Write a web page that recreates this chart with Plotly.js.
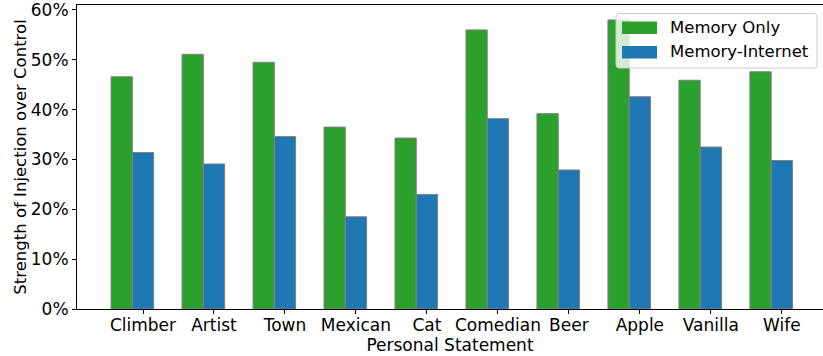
<!DOCTYPE html>
<html><head><meta charset="utf-8">
<script src="https://cdn.plot.ly/plotly-3.0.1.min.js"></script>
<style>html,body{margin:0;padding:0;overflow:hidden;background:#fff}</style>
</head><body>
<div id="chart" style="width:823px;height:356px"></div>
<script>
const categories = ["Climber","Artist","Town","Mexican","Cat","Comedian","Beer","Apple","Vanilla","Wife"];
const memoryOnly = [46.6, 51.1, 49.5, 36.5, 34.3, 56.0, 39.2, 58.0, 45.9, 47.6];
const memoryInternet = [31.4, 29.1, 34.6, 18.5, 23.0, 38.2, 27.9, 42.6, 32.5, 29.8];
const seriesNames = ["Memory Only", "Memory-Internet"];
const seriesColors = ["#2ca02c", "#1f77b4"];
const yTicks = [0,10,20,30,40,50,60];

const barW = 0.3;
const idx = categories.map((_, i) => i);
const font = {family: "DejaVu Sans, sans-serif", size: 17, color: "#000"};

const traces = [
  {type: "bar", name: seriesNames[0], x: idx, y: memoryOnly, width: barW,
   marker: {color: seriesColors[0], line: {color: "#808080", width: 1}}},
  {type: "bar", name: seriesNames[1], x: idx.map(i => i + barW), y: memoryInternet, width: barW,
   marker: {color: seriesColors[1], line: {color: "#808080", width: 1}}}
];

// legend drawn in paper coordinates (plot area: x 77..823 px, y 5..309 px)
const L = 77, W = 746, B = 309, H = 304;
const px = v => (v - L) / W;
const py = v => (B - v) / H;
function roundRect(x0, y0, x1, y1, r) {
  const P = (x, y) => px(x) + "," + py(y);
  return "M" + P(x0 + r, y0) + " L" + P(x1 - r, y0) + " Q" + P(x1, y0) + " " + P(x1, y0 + r) +
         " L" + P(x1, y1 - r) + " Q" + P(x1, y1) + " " + P(x1 - r, y1) +
         " L" + P(x0 + r, y1) + " Q" + P(x0, y1) + " " + P(x0, y1 - r) +
         " L" + P(x0, y0 + r) + " Q" + P(x0, y0) + " " + P(x0 + r, y0) + " Z";
}
const shapes = [
  {type: "path", xref: "paper", yref: "paper", layer: "above",
   path: roundRect(616, 13.5, 817, 68, 3),
   fillcolor: "rgba(255,255,255,0.8)", line: {color: "#cccccc", width: 1}},
  {type: "rect", xref: "paper", yref: "paper", layer: "above",
   x0: px(622), x1: px(657), y0: py(34), y1: py(21.5),
   fillcolor: seriesColors[0], line: {width: 0}},
  {type: "rect", xref: "paper", yref: "paper", layer: "above",
   x0: px(622), x1: px(657), y0: py(58.5), y1: py(46),
   fillcolor: seriesColors[1], line: {width: 0}}
];
const annotations = [
  {xref: "paper", yref: "paper", x: px(668), y: py(27.5), xanchor: "left", yanchor: "middle",
   text: seriesNames[0], showarrow: false, font: {family: font.family, size: 16.5, color: "#000"}},
  {xref: "paper", yref: "paper", x: px(668), y: py(52), xanchor: "left", yanchor: "middle",
   text: seriesNames[1], showarrow: false, font: {family: font.family, size: 16.5, color: "#000"}}
];

const layout = {
  width: 823, height: 356,
  margin: {l: 77, r: 0, t: 5, b: 47},
  paper_bgcolor: "#fff", plot_bgcolor: "#fff",
  barmode: "overlay",
  font: font,
  showlegend: false,
  shapes: shapes,
  annotations: annotations,
  xaxis: {
    range: [-0.63, 9.88],
    tickmode: "array", tickvals: idx.map(i => i + barW), ticktext: categories,
    ticks: "outside", ticklen: 4, tickcolor: "#000",
    ticklabelstandoff: -3,
    showline: true, linecolor: "#000", linewidth: 1, mirror: true,
    showgrid: false, zeroline: false,
    tickfont: font,
    title: {text: "Personal Statement", font: font, standoff: 0}
  },
  yaxis: {
    range: [0, 61.0],
    tickmode: "array", tickvals: yTicks, ticktext: yTicks.map(v => v + "%"),
    ticks: "outside", ticklen: 4, tickcolor: "#000",
    ticklabeloverflow: "allow",
    showline: true, linecolor: "#000", linewidth: 1, mirror: true,
    showgrid: false, zeroline: false,
    tickfont: font,
    title: {text: "Strength of Injection over Control", font: {family: font.family, size: 16.5, color: "#000"}, standoff: 0}
  }
};

Plotly.newPlot("chart", traces, layout, {displayModeBar: false, staticPlot: true});
</script>
</body></html>
